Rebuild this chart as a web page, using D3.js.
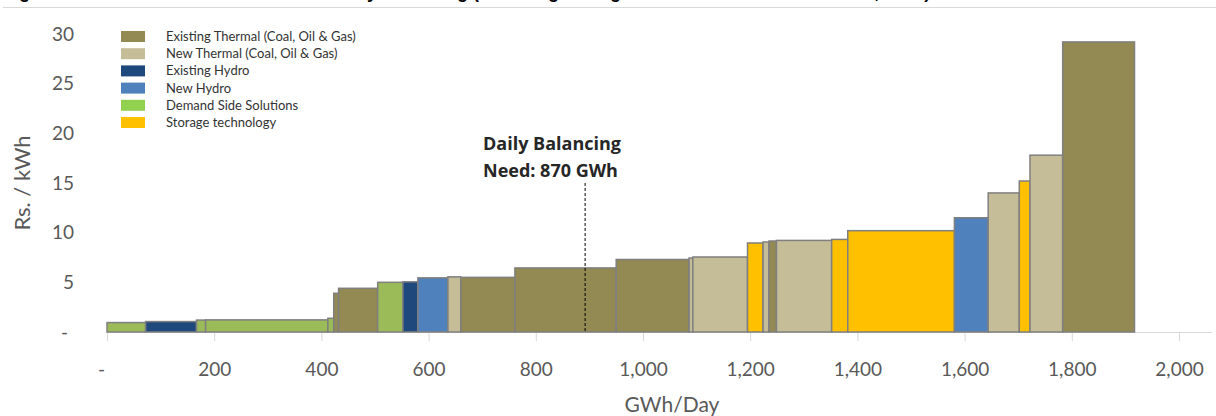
<!DOCTYPE html>
<html><head><meta charset="utf-8">
<script src="https://cdn.jsdelivr.net/npm/d3@7"></script>
<style>
html,body{margin:0;padding:0;background:#fff;}
svg{display:block;}
</style></head>
<body>
<svg id="chart" width="1216" height="416"></svg>
<script>
// ---- data ----
const title = "Figure 5: Merit Order of Resources for Daily Balancing (Including Storage and Demand Side Solutions, 2030)";
const categories = ["Existing Thermal (Coal, Oil & Gas)","New Thermal (Coal, Oil & Gas)","Existing Hydro","New Hydro","Demand Side Solutions","Storage technology"];
const barColors = ["#938953","#C4BD97","#1F497D","#4F81BD","#9BBB59","#FFC000"];
const legendColors = ["#938953","#C4BD97","#1F497D","#4F81BD","#92D050","#FFC000"];
// each block of the supply curve: category index, capacity (GWh/day), cost (Rs./kWh)
const blockCategory = [4,2,4,4,4,0,0,4,2,3,1,0,0,0,1,1,5,1,0,1,5,5,3,1,5,1,0];
const blockVolume   = [72,95,17,228,11,9,73,47,28,56,24,101,189,136,7,102,29,11,14,103,30,199,63,58,20,61,134];
const blockCost     = [0.95,1.05,1.2,1.22,1.38,3.9,4.4,5.0,5.05,5.45,5.55,5.5,6.45,7.3,7.45,7.55,8.96,9.06,9.16,9.22,9.32,10.2,11.5,14.0,15.2,17.8,29.2];
const xTicks = [0,200,400,600,800,1000,1200,1400,1600,1800,2000];
const yTicks = [0,5,10,15,20,25,30];
const balancingNeed = 892;
const annotation = ["Daily Balancing","Need: 870 GWh"];
const xTitle = "GWh/Day";
const yTitle = "Rs. / kWh";

// ---- chart ----
const svg = d3.select("#chart");
const x = d3.scaleLinear().domain([0,2000]).range([107,1179]);
const y = d3.scaleLinear().domain([0,30]).range([332,34]);
const tickFont = "Lato, 'Open Sans', sans-serif";
const fmt = v => v === 0 ? "-" : d3.format(",")(v);

// cropped title (only its descenders show, as in the reference) and separator line
svg.append("text").attr("x",3).attr("y",-2).attr("font-family","'Liberation Sans', Arial, sans-serif")
  .attr("font-weight","bold").attr("font-size",18).attr("fill","#000").text(title);
svg.append("line").attr("x1",3).attr("x2",1216).attr("y1",7.5).attr("y2",7.5).attr("stroke","#d9d9d9").attr("stroke-width",1);

// blocks
let starts = [];
let acc = 0;
blockVolume.forEach(v => { starts.push(acc); acc += v; });
const blocks = blockVolume.map((v,i) => ({x0:starts[i], x1:starts[i]+v, cost:blockCost[i], cat:blockCategory[i]}));

// x axis
const xAxisG = svg.append("g").attr("transform",`translate(0,${y(0)})`);
xAxisG.append("line").attr("x1",x(0)).attr("x2",1212).attr("y1",0.5).attr("y2",0.5).attr("stroke","#d9d9d9");
const xAxis = d3.axisBottom(x).tickValues(xTicks).tickFormat(fmt).tickSize(9).tickPadding(22);
xAxisG.call(xAxis);
xAxisG.select(".domain").remove();
xAxisG.selectAll(".tick line").attr("stroke","#d9d9d9");
xAxisG.selectAll(".tick text").attr("font-family",tickFont).attr("font-size",19).attr("fill","#595959");
xAxisG.selectAll(".tick").filter(d=>d===0).select("text").attr("dx",-6);

// y axis
const yAxisG = svg.append("g").attr("transform","translate(74,0)");
yAxisG.call(d3.axisLeft(y).tickValues(yTicks).tickFormat(fmt).tickSize(0).tickPadding(0));
yAxisG.select(".domain").remove();
yAxisG.selectAll(".tick text").attr("font-family",tickFont).attr("font-size",19).attr("fill","#595959");
yAxisG.selectAll(".tick").filter(d=>d===0).select("text").attr("dx",-6);

// bars
svg.append("g").selectAll("rect").data(blocks).join("rect")
  .attr("x",d=>x(d.x0)).attr("width",d=>x(d.x1)-x(d.x0))
  .attr("y",d=>y(d.cost)).attr("height",d=>y(0)-y(d.cost))
  .attr("fill",d=>barColors[d.cat]).attr("stroke","#7f7f7f").attr("stroke-width",1.5);

// balancing need
svg.append("line").attr("x1",x(balancingNeed)).attr("x2",x(balancingNeed))
  .attr("y1",183).attr("y2",y(0)).attr("stroke","#000").attr("stroke-width",1).attr("stroke-dasharray","3,2");
svg.append("text").attr("font-family","'Open Sans', sans-serif").attr("font-weight","bold")
  .attr("font-size",18).attr("fill","#262626")
  .selectAll("tspan").data(annotation).join("tspan")
  .attr("x",483).attr("y",(d,i)=>150+i*27).text(d=>d);

// legend
const lg = svg.append("g").attr("transform","translate(121,31)");
const row = lg.selectAll("g").data(categories).join("g").attr("transform",(d,i)=>`translate(0,${i*17.2})`);
row.append("rect").attr("width",24).attr("height",11).attr("fill",(d,i)=>legendColors[i]);
row.append("text").attr("x",45).attr("y",10).attr("font-family",tickFont).attr("font-size",13)
  .attr("fill","#333").text(d=>d);

// axis titles
svg.append("text").attr("x",672).attr("y",412).attr("text-anchor","middle").attr("font-family",tickFont)
  .attr("font-size",21).attr("fill","#595959").text(xTitle);
svg.append("text").attr("transform","translate(30,183) rotate(-90)").attr("text-anchor","middle")
  .attr("font-family",tickFont).attr("font-size",22).attr("fill","#595959").text(yTitle);
</script>
</body></html>
